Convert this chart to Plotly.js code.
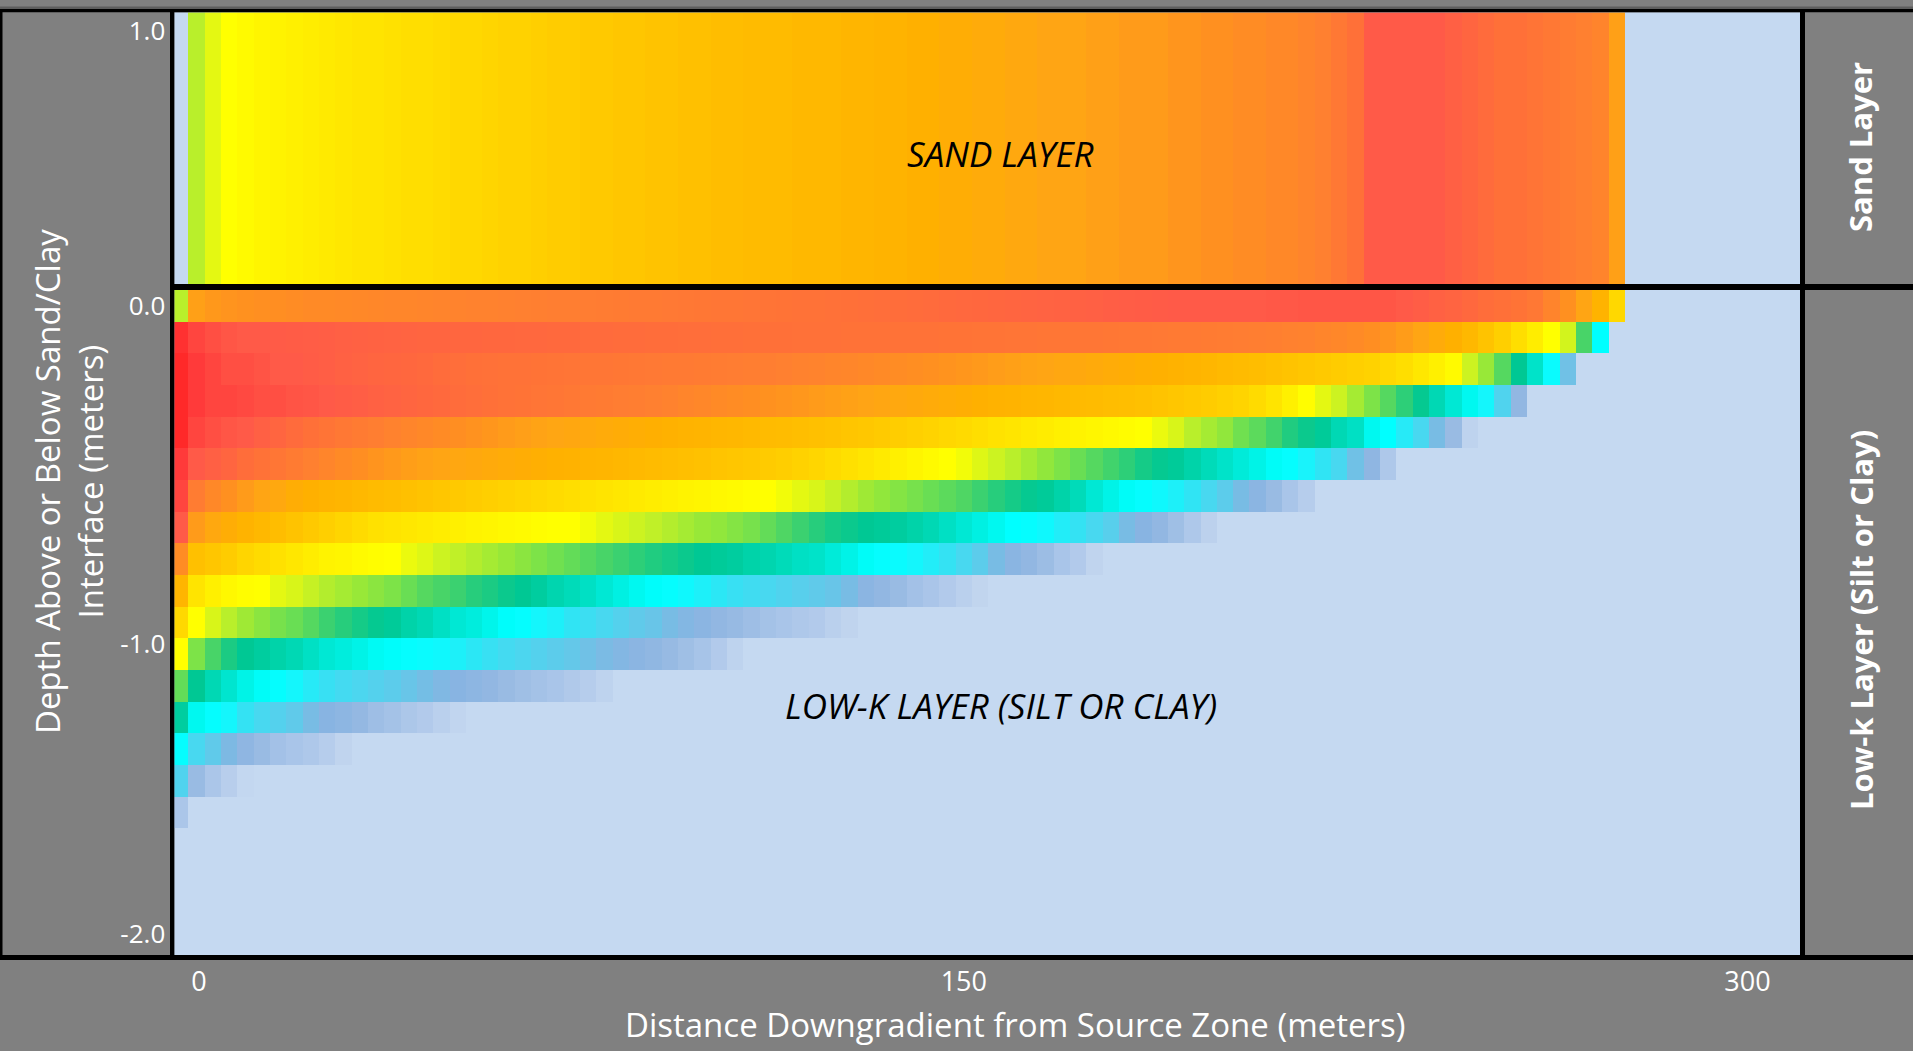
<!DOCTYPE html>
<html>
<head>
<meta charset="utf-8">
<script src="https://cdn.plot.ly/plotly-3.0.1.min.js"></script>
<style>html,body{margin:0;padding:0;background:#808080;}#chart{width:1913px;height:1051px;}</style>
</head>
<body>
<div id="chart"></div>
<script>
// ---------------- DATA ----------------
// Relative concentration level (0-100 colour index) in each model cell.
// Columns: 3.125 m cells starting at 0 m; rows of the low-k layer: 0.1 m each.
const colStart_m = 0;
const colWidth_m = 3.125;

// Sand layer (single row)
const sandLayer = [
  null, 67.5, 71, 73, 74, 75, 75.5, 76, 76.5, 77,
  77.5, 78, 78, 78.5, 79, 79, 79.5, 80, 80, 80.5,
  81, 81, 81.5, 82, 82, 82.5, 82.5, 83, 83, 83.5,
  83.5, 84, 84, 84.5, 84.5, 85, 85, 85, 85.5, 85.5,
  85.5, 86, 86, 86.5, 86.5, 87, 87, 87.5, 87.5, 88,
  88, 88.5, 88.5, 89, 89, 89, 89.5, 89.5, 90, 90,
  90, 90.5, 90.5, 91, 91, 91.5, 91.5, 92, 92, 92.5,
  93, 94, 95, 97, 97, 97, 97, 97, 96.5, 96,
  95.5, 95, 95, 94.5, 94, 93.5, 93, 92.5, 89.5
];

// Depth of each low-k row (m)
const depth_m = [0.0, -0.1, -0.2, -0.3, -0.4, -0.5, -0.6, -0.7, -0.8, -0.9, -1.0,
                 -1.1, -1.2, -1.3, -1.4, -1.5, -1.6, -1.7, -1.8, -1.9, -2.0];

const row00 = [67.5, 89.5, 90.2, 90.6, 90.9, 91.1, 91.3, 91.5, 91.7, 91.8,
  91.9, 92, 92.1, 92.2, 92.3, 92.4, 92.5, 92.6, 92.7, 92.8,
  92.9, 93, 93.1, 93.2, 93.3, 93.4, 93.5, 93.6, 93.7, 93.8,
  93.9, 94, 94.1, 94.2, 94.3, 94.4, 94.5, 94.6, 94.7, 94.8,
  94.9, 95, 95.1, 95.2, 95.3, 95.4, 95.5, 95.6, 95.7, 95.8,
  95.9, 96, 96.1, 96.2, 96.3, 96.4, 96.5, 96.6, 96.7, 96.8,
  96.9, 97, 97, 97, 97, 97, 97, 97.1, 97.1, 97.2,
  97.2, 97.2, 97.2, 97.2, 97.2, 97, 96.7, 96.4, 96.1, 95.7,
  95.3, 95, 94.6, 94, 92.5, 91, 89, 86.5, 80];
const row01 = [99, 98, 97.5, 97.2, 97, 97, 96.9, 96.8, 96.7, 96.6,
  96.5, 96.4, 96.3, 96.2, 96.1, 96, 96, 95.9, 95.9, 95.8,
  95.8, 95.7, 95.7, 95.6, 95.6, 95.5, 95.5, 95.4, 95.4, 95.3,
  95.3, 95.2, 95.2, 95.1, 95.1, 95, 95, 95, 94.9, 94.9,
  94.9, 94.8, 94.8, 94.8, 94.7, 94.7, 94.7, 94.6, 94.6, 94.5,
  94.5, 94.4, 94.4, 94.3, 94.3, 94.2, 94.2, 94.1, 94, 94,
  93.9, 93.8, 93.7, 93.6, 93.5, 93.4, 93.3, 93.1, 92.9, 92.7,
  92.4, 92.1, 91.7, 91.2, 90.6, 89.9, 89, 88, 87, 85.5,
  83.5, 81.5, 79, 76.5, 73, 69.5, 59, 42];
const row02 = [99.5, 98.5, 98, 97.5, 97.5, 97.3, 97, 97, 96.8, 96.6,
  96.4, 96.2, 96, 95.9, 95.8, 95.6, 95.4, 95.2, 95, 94.9,
  94.8, 94.7, 94.6, 94.5, 94.4, 94.3, 94.2, 94.1, 94, 93.9,
  93.8, 93.7, 93.6, 93.5, 93.4, 93.3, 93.2, 93, 92.8, 92.6,
  92.4, 92.2, 92, 91.8, 91.5, 91.2, 91, 90.7, 90.4, 90.1,
  89.8, 89.5, 89.2, 89, 88.7, 88.4, 88.1, 87.8, 87.5, 87.2,
  87, 86.6, 86.2, 85.8, 85.4, 85, 84.5, 84, 83.5, 83,
  82.5, 82, 81.5, 81, 80, 79, 77.5, 76, 74, 69,
  65, 60, 53, 48, 41, 29];
const row03 = [99.5, 98.5, 98, 98, 97.8, 97.5, 97.5, 97.3, 97.2, 97,
  96.8, 96.6, 96.4, 96.2, 96, 95.8, 95.6, 95.4, 95.2, 95,
  94.8, 94.6, 94.4, 94.2, 94, 93.8, 93.6, 93.4, 93.2, 93,
  92.7, 92.4, 92.1, 91.8, 91.5, 91.2, 90.9, 90.6, 90.3, 90,
  89.7, 89.4, 89.1, 88.8, 88.5, 88.2, 87.9, 87.6, 87.3, 87,
  86.7, 86.4, 86.1, 85.8, 85.5, 85.2, 84.9, 84.6, 84.3, 84,
  83.5, 83, 82.5, 82, 81.3, 80.6, 79.5, 78, 76, 73.5,
  71, 69, 66, 63, 60, 57, 53.5, 50, 47, 44,
  40, 33, 22];
const row04 = [99.5, 98, 97.5, 97.2, 97, 96.5, 96, 95.5, 95, 94.5,
  94, 93.6, 93.2, 92.8, 92.4, 92, 91.6, 91.2, 90.8, 90.4,
  90, 89.6, 89.2, 88.9, 88.6, 88.3, 88, 87.7, 87.4, 87.1,
  86.8, 86.5, 86.2, 85.9, 85.6, 85.3, 85, 84.7, 84.4, 84,
  83.6, 83.2, 82.8, 82.3, 81.8, 81.3, 80.8, 80.2, 79.6, 79,
  78.4, 77.8, 77.2, 76.6, 76, 75.4, 74.8, 74.2, 73.6, 73,
  71.5, 70, 67.5, 66, 64.5, 62, 60.5, 58.5, 56, 54,
  52.5, 50, 48.5, 44, 42, 38, 34, 28, 20, 5];
const row05 = [98.5, 97, 96.5, 96, 95.3, 94.8, 94.2, 93.6, 93, 92.4,
  91.8, 91.2, 90.6, 90.1, 89.7, 89.3, 89, 88.7, 88.4, 88.1,
  87.8, 87.5, 87.2, 86.9, 86.6, 86.3, 86, 85.7, 85.3, 85,
  84.6, 84.2, 83.8, 83.4, 83, 82.6, 82.2, 81.7, 81, 80.3,
  79.5, 78.7, 77.9, 77, 76, 75, 74, 73, 72, 70.5,
  69, 67.5, 66, 64.5, 63, 61.5, 60, 58.5, 57, 55,
  53.5, 52.5, 51, 49.5, 48, 46.5, 45, 43, 41.5, 39.5,
  37, 34, 29, 23, 13];
const row06 = [98, 93.5, 92, 91, 90, 89, 88.5, 87.5, 87, 86.5,
  86, 85.5, 85, 84.5, 84, 83.5, 83, 82.5, 82, 81.5,
  81, 80.5, 80, 79.5, 79, 78.5, 78, 77.5, 77, 76.5,
  76, 75.5, 75, 74.5, 74, 73.5, 73, 72, 71, 70,
  68.5, 67, 65.5, 64.5, 63.5, 62.5, 61.5, 60.5, 59.5, 58,
  56.5, 55, 53.5, 52.5, 51, 49.5, 47, 45, 43, 41.5,
  40.5, 39, 37, 34, 31.5, 28, 24, 20, 15, 9];
const row07 = [97, 90, 88.5, 87.5, 86.5, 85.5, 84.5, 83.5, 82.5, 81.5,
  80.5, 79.5, 78.5, 78, 77.5, 77, 76.5, 76, 75.5, 75,
  74.5, 74, 73.5, 73, 73, 72, 71, 70, 69, 68,
  67, 66, 65, 64.5, 63.5, 62.5, 61, 59.5, 58, 56.5,
  55, 54, 53, 52.5, 52, 51, 50, 48.5, 47, 45.5,
  44, 42, 41.5, 40.5, 38.5, 36.5, 34, 32, 28, 25,
  22, 18, 13, 6];
const row08 = [91.5, 84, 83, 82, 80.5, 79.5, 78.5, 77.5, 76.5, 75.5,
  75, 74, 73.5, 73, 71.5, 70.5, 69, 68, 67, 66,
  65, 64, 63, 62, 61, 60, 59, 58, 57, 56,
  55, 54, 53, 52.5, 52, 51, 50.5, 49.5, 48.5, 48,
  46.5, 45, 43, 41.5, 41, 40, 38.5, 36.5, 34, 31.5,
  28, 24.5, 22, 19, 15, 11, 4];
const row09 = [86, 78, 76, 74.5, 73.5, 73, 71, 70, 68.5, 67,
  66, 65, 64, 63, 61.5, 60, 59, 58, 56.5, 55.5,
  54, 53, 52, 50.5, 49.5, 48.5, 47, 45.5, 44, 42.5,
  41.5, 40.5, 39, 37.5, 36, 35, 34, 33, 32, 31,
  30, 28, 24, 22, 20, 17, 14.5, 11, 7, 3.5];
const row10 = [80, 73, 70, 67.5, 65.5, 64, 62.5, 61.5, 60, 58,
  56.5, 55, 53.5, 52.5, 51, 50, 48.5, 47, 46, 44.5,
  42.5, 41.5, 40, 39, 37, 35.5, 34, 32.5, 31, 30,
  28, 26, 24, 22, 20.5, 18.5, 16.5, 15, 13, 11,
  7, 4];
const row11 = [73, 63, 59, 55.5, 53, 52, 51, 50, 48.5, 47,
  46, 45, 43.5, 42.5, 41.5, 41, 40.5, 39, 37.5, 36,
  34.5, 33.5, 32.5, 31.5, 30.5, 29, 27.5, 26, 24, 22.5,
  20.5, 18, 15.5, 11, 5];
const row12 = [61, 53, 50, 47.5, 45, 43, 41.5, 40, 38, 36,
  34.5, 33.5, 32.5, 31.5, 30, 28.5, 26.5, 25, 23.5, 22,
  20, 18, 16.5, 15, 12, 9, 5];
const row13 = [52, 44, 41.5, 40, 36.5, 34, 32.5, 31, 28, 25,
  23.5, 21.5, 18.5, 16.5, 13.5, 11, 7, 3];
const row14 = [41.5, 34, 31, 27, 23, 20, 17, 15, 13, 9, 4];
const row15 = [33, 20, 14, 8, 1.5];
const row16 = [14];
const row17 = [];
const row18 = [];
const row19 = [];
const row20 = [];

// Axis tick labels
const xTickVals = [3.6, 150, 300];
const xTickText = ['0', '150', '300'];
const yTickVals = [0, -1.068, -1.983];
const yTickText = ['0.0', '-1.0', '-2.0'];
const ySandTickVals = [0.932];
const ySandTickText = ['1.0'];

// ---------------- CHART ----------------
const lowK = [row00, row01, row02, row03, row04, row05, row06, row07, row08, row09, row10,
              row11, row12, row13, row14, row15, row16, row17, row18, row19, row20];

const W = 1913, H = 1051;
const px = v => v / W;
const py = v => 1 - v / H;
const FONT = 'Open Sans, Noto Sans, sans-serif';

const cscale = [
  [0.00, '#C5D9F1'], [0.04, '#C0D4EE'], [0.08, '#B8CEEC'], [0.12, '#B0C9EA'],
  [0.16, '#A6C3E8'], [0.19, '#9CBDE4'], [0.22, '#92B7E2'], [0.25, '#88B4E2'],
  [0.28, '#78BCE4'], [0.31, '#60CAEA'], [0.34, '#48D8F0'], [0.37, '#30E4F4'],
  [0.40, '#14F6FC'], [0.42, '#00FFFF'], [0.44, '#00F8F0'], [0.47, '#00E8D4'],
  [0.50, '#00D8B4'], [0.53, '#00C894'], [0.56, '#20CC80'], [0.59, '#48D468'],
  [0.62, '#70E050'], [0.65, '#98E838'], [0.68, '#C0F028'], [0.71, '#E4F812'],
  [0.73, '#FFFF00'], [0.76, '#FFF000'], [0.80, '#FFD800'], [0.84, '#FFC000'],
  [0.87, '#FFB000'], [0.89, '#FFA514'], [0.91, '#FF9020'], [0.93, '#FF8030'],
  [0.95, '#FF7038'], [0.97, '#FF5A48'], [0.985, '#FF3A3A'], [1.00, '#FF2020']
];

const traces = [
  {
    type: 'heatmap', z: lowK, x0: colStart_m, dx: colWidth_m, y: depth_m,
    xaxis: 'x', yaxis: 'y', colorscale: cscale, zmin: 0, zmax: 100,
    showscale: false, hoverinfo: 'skip', xgap: 0, ygap: 0
  },
  {
    type: 'heatmap', z: [sandLayer], x0: colStart_m, dx: colWidth_m, y0: 0.5, dy: 1,
    xaxis: 'x2', yaxis: 'y2', colorscale: cscale, zmin: 0, zmax: 100,
    showscale: false, hoverinfo: 'skip'
  }
];

const xDom = [px(174.3), px(1800)];
const xRange = [-1.118, 310.06];
const baseAxis = {showgrid: false, zeroline: false, showline: false, ticks: '', fixedrange: true};

const shapes = [];
function blackRect(x0, y0, x1, y1, color) {
  shapes.push({type: 'rect', xref: 'paper', yref: 'paper', x0: px(x0), x1: px(x1),
    y0: py(y1), y1: py(y0), fillcolor: color || '#000000', line: {width: 0}, layer: 'above'});
}
blackRect(0, 6.5, W, 9, '#5E5E5E');
blackRect(0, 9, W, 12.3);          // top line
blackRect(0, 955, W, 960);         // bottom line
blackRect(170, 9, 174.3, 960);     // plot left border
blackRect(1800, 9, 1805, 960);     // plot right border
blackRect(174, 284, W, 290);       // sand / low-k divider
blackRect(0, 9, 2.5, 960);         // outer left edge

const annotations = [
  {text: 'SAND LAYER', x: px(1000), y: py(153.5), xref: 'paper', yref: 'paper',
   showarrow: false, xanchor: 'center', yanchor: 'middle',
   font: {family: FONT, size: 35, color: '#000000', style: 'italic'}},
  {text: 'LOW-K LAYER (SILT OR CLAY)', x: px(1001), y: py(705), xref: 'paper', yref: 'paper',
   showarrow: false, xanchor: 'center', yanchor: 'middle',
   font: {family: FONT, size: 35, color: '#000000', style: 'italic'}},
  {text: 'Sand Layer', x: px(1860.5), y: py(147.5), xref: 'paper', yref: 'paper',
   showarrow: false, xanchor: 'center', yanchor: 'middle', textangle: -90,
   font: {family: FONT, size: 31, color: '#FFFFFF', weight: 'bold'}},
  {text: 'Low-k Layer (Silt or Clay)', x: px(1861), y: py(620), xref: 'paper', yref: 'paper',
   showarrow: false, xanchor: 'center', yanchor: 'middle', textangle: -90,
   font: {family: FONT, size: 31, color: '#FFFFFF', weight: 'bold'}},
  {text: 'Depth Above or Below Sand/Clay<br>Interface (meters)', x: px(69), y: py(482),
   xref: 'paper', yref: 'paper', showarrow: false, xanchor: 'center', yanchor: 'middle',
   textangle: -90, font: {family: FONT, size: 33, color: '#FFFFFF'}},
  {text: 'Distance Downgradient from Source Zone (meters)', x: px(1015.5), y: py(1024),
   xref: 'paper', yref: 'paper', showarrow: false, xanchor: 'center', yanchor: 'middle',
   font: {family: FONT, size: 33, color: '#FFFFFF'}}
];

const layout = {
  width: W, height: H,
  margin: {l: 0, r: 0, t: 0, b: 0, pad: 0},
  paper_bgcolor: '#808080', plot_bgcolor: '#C5D9F1',
  showlegend: false,
  font: {family: FONT, color: '#FFFFFF'},
  xaxis: Object.assign({}, baseAxis, {domain: xDom, range: xRange, anchor: 'y',
    tickmode: 'array', tickvals: xTickVals, ticktext: xTickText,
    tickfont: {family: FONT, size: 27, color: '#FFFFFF'}, ticklabelstandoff: 8}),
  xaxis2: Object.assign({}, baseAxis, {domain: xDom, range: xRange, anchor: 'y2', showticklabels: false}),
  yaxis: Object.assign({}, baseAxis, {domain: [py(955), py(290)], range: [-2.05, 0.05], anchor: 'x',
    tickmode: 'array', tickvals: yTickVals, ticktext: yTickText,
    tickfont: {family: FONT, size: 26, color: '#FFFFFF'}, ticklabelstandoff: 8}),
  yaxis2: Object.assign({}, baseAxis, {domain: [py(284), py(12.3)], range: [0, 1], anchor: 'x2',
    tickmode: 'array', tickvals: ySandTickVals, ticktext: ySandTickText,
    tickfont: {family: FONT, size: 26, color: '#FFFFFF'}, ticklabelstandoff: 8}),
  shapes: shapes,
  annotations: annotations
};

Plotly.newPlot('chart', traces, layout, {displayModeBar: false, staticPlot: true});
</script>
</body>
</html>
